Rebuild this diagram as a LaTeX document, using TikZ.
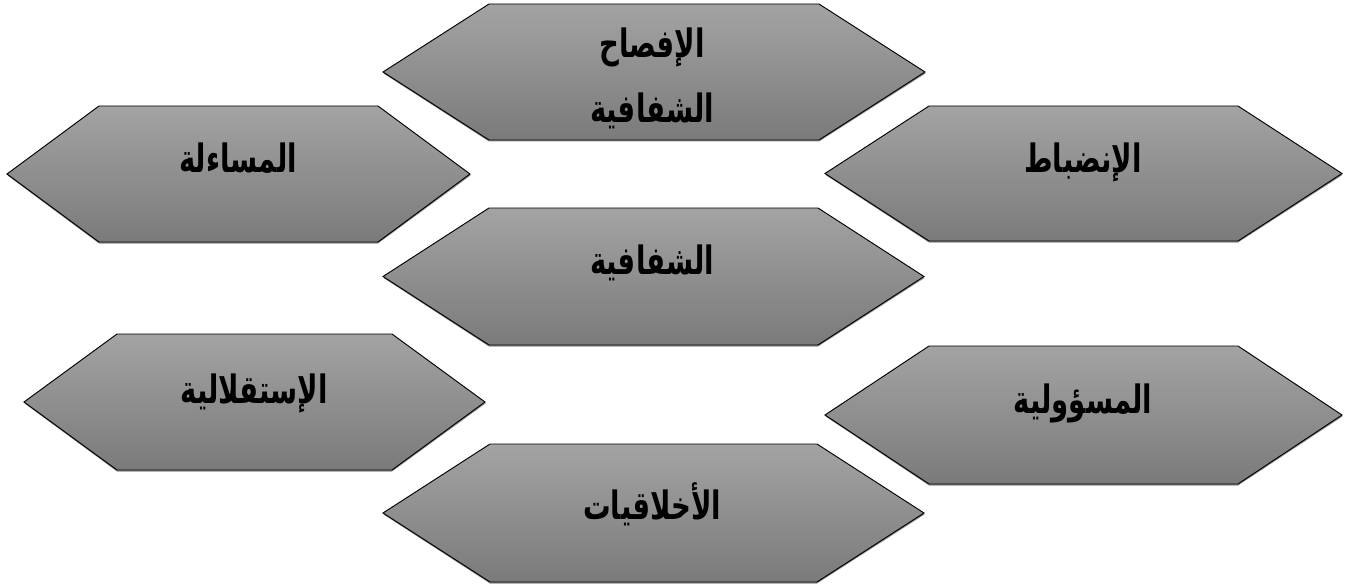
\documentclass[tikz,border=0pt]{standalone}
\usepackage{fontspec}
\newfontfamily\arabicfont[Script=Arabic]{DejaVu Sans}
\TeXXeTstate=1
\newcommand{\ar}[1]{{\arabicfont\bfseries\beginR #1\endR}}

\begin{document}
\begin{tikzpicture}[x=0.75pt,y=-0.75pt,
  hexa/.style={draw=black,line width=0.7pt,top color=black!36,bottom color=black!52},
  hexshadow/.style={fill=black!45},
  lbl/.style={font=\fontsize{24}{40}\selectfont,align=center,inner sep=0pt,
    transform shape,xscale=0.86,yscale=1.22}]
  \useasboundingbox (0,0) rectangle (1365,585);
  % hexagons: left tip / right tip / top / bottom / bevel
  \foreach \xl/\xr/\yt/\yb/\b in {383/925/4/140/106, 7/470/106/242/92, 825/1342/106/241/104,
      383/924/208/345/106, 24/485/334/470/93, 825/1342/346/484/104, 383/924/444/582/107}{
    \fill[hexshadow] ({\xl+0.5},{(\yt+\yb)/2+1.5}) -- ({\xl+\b},{\yt+1.5}) -- ({\xr-\b},{\yt+1.5})
      -- ({\xr+0.5},{(\yt+\yb)/2+1.5}) -- ({\xr-\b},{\yb+1.5}) -- ({\xl+\b},{\yb+1.5}) -- cycle;
    \draw[hexa] (\xl,{(\yt+\yb)/2}) -- ({\xl+\b},\yt) -- ({\xr-\b},\yt)
      -- (\xr,{(\yt+\yb)/2}) -- ({\xr-\b},\yb) -- ({\xl+\b},\yb) -- cycle;
  }
  \node[lbl] (disclose) at (652,78) {\ar{الإفصاح}\\\ar{الشفافية}};
  \node[lbl] (account) at (238,158) {\ar{المساءلة}};
  \node[lbl] (discipline) at (1083,162) {\ar{الإنضباط}};
  \node[lbl] (transp) at (652,263) {\ar{الشفافية}};
  \node[lbl] (indep) at (254,393) {\ar{الإستقلالية}};
  \node[lbl] (resp) at (1083,403) {\ar{المسؤولية}};
  \node[lbl] (ethics) at (652,504) {\ar{الأخلاقيات}};
\end{tikzpicture}
\end{document}
